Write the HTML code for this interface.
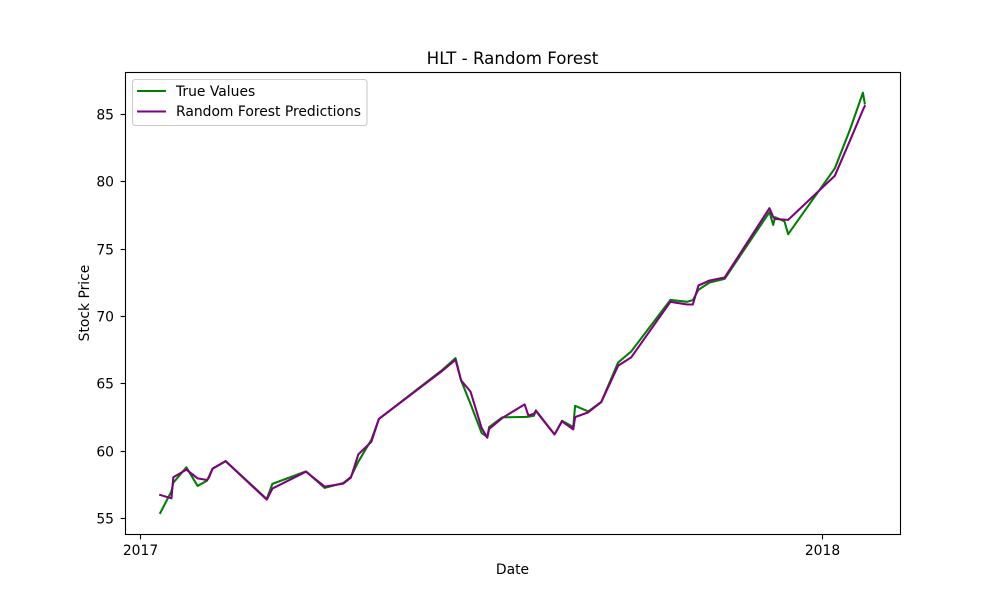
<!DOCTYPE html>
<html>
<head>
<meta charset="utf-8">
<title>HLT - Random Forest</title>
<style>
  html, body { margin: 0; padding: 0; background: #fff; }
  svg { display: block; }
  text { font-family: "DejaVu Sans", "Liberation Sans", sans-serif; fill: #000; }
</style>
</head>
<body>
<svg id="chart" xmlns="http://www.w3.org/2000/svg" width="1000" height="600" viewBox="0 0 1000 600">
  <rect x="0" y="0" width="1000" height="600" fill="#ffffff"/>
  <rect x="125" y="72" width="775" height="462" fill="#ffffff"/>
  <g id="series"></g>
  <g id="ticks"></g>
  <rect x="125.5" y="72.5" width="775" height="462" fill="none" stroke="#000" stroke-width="1.11"/>
  <text x="512.5" y="64" font-size="16.67" text-anchor="middle">HLT - Random Forest</text>
  <text x="512.5" y="574" font-size="13.89" text-anchor="middle">Date</text>
  <text x="0" y="0" font-size="13.89" text-anchor="middle" transform="translate(89,303) rotate(-90)">Stock Price</text>
  <g>
    <rect x="132.5" y="79.5" width="234.5" height="46" rx="2.8" ry="2.8" fill="#ffffff" fill-opacity="0.8" stroke="#cccccc" stroke-width="1.11"/>
    <line x1="137" y1="91" x2="166" y2="91" stroke="#008000" stroke-width="2.08"/>
    <text x="176" y="96" font-size="13.89">True Values</text>
    <line x1="137" y1="111.5" x2="166" y2="111.5" stroke="#800080" stroke-width="2.08"/>
    <text x="176" y="116" font-size="13.89">Random Forest Predictions</text>
  </g>
</svg>
<script>
// Days since 2017-01-01
const dayOffsets = [11,17,18,25,31,36,37,39,46,68,71,89,99,109,113,117,124,128,162,169,172,177,183,186,187,194,206,208,211,212,222,226,232,233,240,247,256,263,284,293,296,299,305,313,337,339,340,345,347,372,380,387,388];
const trueValues = [55.38,56.99,57.63,58.77,57.39,57.78,58.06,58.67,59.24,56.42,57.54,58.47,57.24,57.61,58.06,59.19,60.82,62.36,66.01,66.88,65.22,63.49,61.32,61.02,61.76,62.48,62.51,62.53,62.6,63.0,61.21,62.23,61.76,63.34,62.92,63.62,66.55,67.37,71.2,71.06,71.18,71.95,72.49,72.76,77.71,76.77,77.34,77.04,76.08,80.97,83.81,86.58,85.79];
const predictedValues = [56.72,56.47,58.03,58.6,57.95,57.83,58.0,58.67,59.22,56.37,57.19,58.45,57.34,57.56,58.0,59.73,60.67,62.36,65.94,66.75,65.22,64.4,61.69,60.97,61.62,62.43,63.44,62.62,62.75,62.95,61.21,62.18,61.59,62.5,62.85,63.62,66.31,66.93,71.06,70.86,70.86,72.27,72.64,72.86,78.01,77.36,77.21,77.16,77.14,80.42,83.0,85.3,85.59];
const yTickValues = [55,60,65,70,75,80,85];
const yTickLabels = ["55","60","65","70","75","80","85"];
const xTickDays = [0,365];
const xTickLabels = ["2017","2018"];

const NS = "http://www.w3.org/2000/svg";
const plot = { left: 125, right: 900, top: 72, bottom: 534 };
const xDomain = [-7.85, 406.85];
const yDomain = [53.82, 88.12];

function xScale(day) {
  return plot.left + (day - xDomain[0]) / (xDomain[1] - xDomain[0]) * (plot.right - plot.left);
}
function yScale(value) {
  return plot.bottom - (value - yDomain[0]) / (yDomain[1] - yDomain[0]) * (plot.bottom - plot.top);
}
function linePoints(values) {
  return values.map(function (v, i) {
    return xScale(dayOffsets[i]).toFixed(2) + "," + yScale(v).toFixed(2);
  }).join(" ");
}

const seriesGroup = document.getElementById("series");
const tickGroup = document.getElementById("ticks");

const trueLine = document.createElementNS(NS, "polyline");


trueLine.setAttribute("points", linePoints(trueValues));
trueLine.setAttribute("fill", "none");
trueLine.setAttribute("stroke", "#008000");
trueLine.setAttribute("stroke-width", "2.08");
trueLine.setAttribute("stroke-linejoin", "round");
trueLine.setAttribute("stroke-linecap", "square");
seriesGroup.appendChild(trueLine);

const predLine = document.createElementNS(NS, "polyline");


predLine.setAttribute("points", linePoints(predictedValues));
predLine.setAttribute("fill", "none");
predLine.setAttribute("stroke", "#800080");
predLine.setAttribute("stroke-width", "2.08");
predLine.setAttribute("stroke-linejoin", "round");
predLine.setAttribute("stroke-linecap", "square");
seriesGroup.appendChild(predLine);

yTickValues.forEach(function (v, i) {
  const y = Math.round(yScale(v)) + 0.5;
  const mark = document.createElementNS(NS, "line");
  
  
  mark.setAttribute("x1", 120.6);
  mark.setAttribute("x2", 125.5);
  mark.setAttribute("y1", y);
  mark.setAttribute("y2", y);
  mark.setAttribute("stroke", "#000");
  mark.setAttribute("stroke-width", "1.11");
  tickGroup.appendChild(mark);
  const label = document.createElementNS(NS, "text");
  
  
  label.setAttribute("x", 114);
  label.setAttribute("y", y + 5);
  label.setAttribute("font-size", "13.89");
  label.setAttribute("text-anchor", "end");
  label.textContent = yTickLabels[i];
  tickGroup.appendChild(label);
});

xTickDays.forEach(function (d, i) {
  const x = Math.round(xScale(d)) + 0.5;
  const mark = document.createElementNS(NS, "line");
  
  
  mark.setAttribute("x1", x);
  mark.setAttribute("x2", x);
  mark.setAttribute("y1", 534.5);
  mark.setAttribute("y2", 539.4);
  mark.setAttribute("stroke", "#000");
  mark.setAttribute("stroke-width", "1.11");
  tickGroup.appendChild(mark);
  const label = document.createElementNS(NS, "text");
  
  
  label.setAttribute("x", x);
  label.setAttribute("y", 555);
  label.setAttribute("font-size", "13.89");
  label.setAttribute("text-anchor", "middle");
  label.textContent = xTickLabels[i];
  tickGroup.appendChild(label);
});
</script>
</body>
</html>
